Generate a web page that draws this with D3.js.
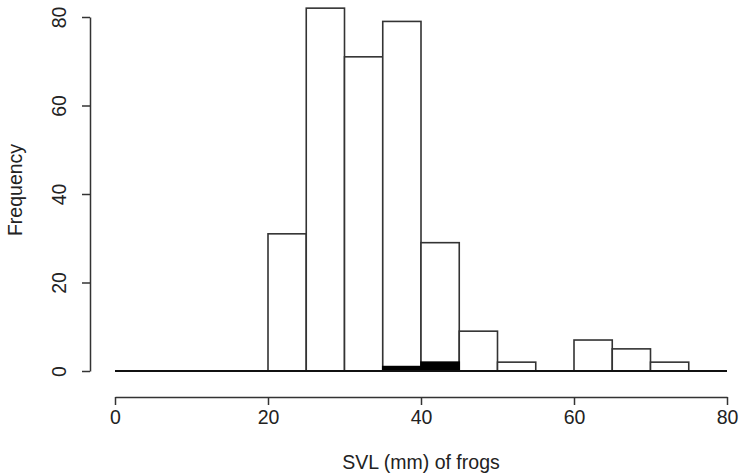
<!DOCTYPE html>
<html>
<head>
<meta charset="utf-8">
<script src="https://cdn.jsdelivr.net/npm/d3@7"></script>
<style>
  body { margin: 0; background: #fff; }
  text { font-family: "Liberation Sans", Arial, sans-serif; fill: #222; }
</style>
</head>
<body>
<svg width="740" height="475"></svg>
<script>
// histogram of frog SVL, bins of 5 mm
const binStarts = [0, 5, 10, 15, 20, 25, 30, 35, 40, 45, 50, 55, 60, 65, 70, 75];
const allFrogs  = [0, 0, 0, 0, 31, 82, 71, 79, 29, 9, 2, 0, 7, 5, 2, 0];
const subset    = [0, 0, 0, 0, 0, 0, 0, 1, 2, 0, 0, 0, 0, 0, 0, 0];
const xTicks = [0, 20, 40, 60, 80];
const yTicks = [0, 20, 40, 60, 80];
const binWidth = 5;

const svg = d3.select("svg");
const fontSize = "19.5px";

const xScale = d3.scaleLinear().domain([0, 80]).range([115, 727]);
const yScale = d3.scaleLinear().domain([0, 80]).range([371, 17]);

// white bars
binStarts.forEach((b, i) => {
    const x0 = xScale(b), x1 = xScale(b + binWidth);
    svg.append("rect")
        .attr("x", x0)
        .attr("y", yScale(allFrogs[i]))
        .attr("width", x1 - x0)
        .attr("height", yScale(0) - yScale(allFrogs[i]))
        .attr("fill", "#fff")
        .attr("stroke", "#333")
        .style("stroke-width", 1.6);
});

// black bars
binStarts.forEach((b, i) => {
    if (subset[i] === 0) return;
    const x0 = xScale(b), x1 = xScale(b + binWidth);
    svg.append("rect")
        .attr("x", x0)
        .attr("y", yScale(subset[i]))
        .attr("width", x1 - x0)
        .attr("height", yScale(0) - yScale(subset[i]))
        .attr("fill", "#000")
        .attr("stroke", "#000")
        .style("stroke-width", 1.6);
});

// base line
svg.append("line")
    .attr("x1", xScale(0)).attr("x2", xScale(80))
    .attr("y1", yScale(0)).attr("y2", yScale(0))
    .attr("stroke", "#111")
    .style("stroke-width", 2.2);

// x axis
const xAxis = d3.axisBottom(xScale).tickValues(xTicks).tickSize(8).tickSizeOuter(0).tickPadding(5);
const gx = svg.append("g").attr("transform", "translate(0,397)").call(xAxis);
gx.select(".domain").attr("stroke", "#333").style("stroke-width", 1.5);
gx.selectAll(".tick line").attr("stroke", "#333").style("stroke-width", 1.5);
gx.selectAll(".tick text").style("font-size", fontSize).attr("fill", "#222")
    .style("font-family", "'Liberation Sans', Arial, sans-serif");

// y axis
const yAxis = d3.axisLeft(yScale).tickValues(yTicks).tickSize(8).tickSizeOuter(0);
const gy = svg.append("g").attr("transform", "translate(90,0)").call(yAxis);
gy.select(".domain").attr("stroke", "#333").style("stroke-width", 1.5);
gy.selectAll(".tick line").attr("stroke", "#333").style("stroke-width", 1.5);
gy.selectAll(".tick text")
    .style("font-size", fontSize).attr("fill", "#222")
    .style("font-family", "'Liberation Sans', Arial, sans-serif")
    .attr("text-anchor", "middle")
    .attr("x", 0).attr("y", 0).attr("dy", "0.35em")
    .attr("transform", "translate(-31,0) rotate(-90)");

// titles
svg.append("text")
    .attr("x", xScale(40)).attr("y", 462)
    .attr("text-anchor", "middle")
    .attr("dy", "0.35em")
    .style("font-size", fontSize)
    .text("SVL (mm) of frogs");

svg.append("text")
    .attr("transform", "translate(15,190) rotate(-90)")
    .attr("text-anchor", "middle")
    .attr("dy", "0.35em")
    .style("font-size", fontSize)
    .text("Frequency");
</script>
</body>
</html>
